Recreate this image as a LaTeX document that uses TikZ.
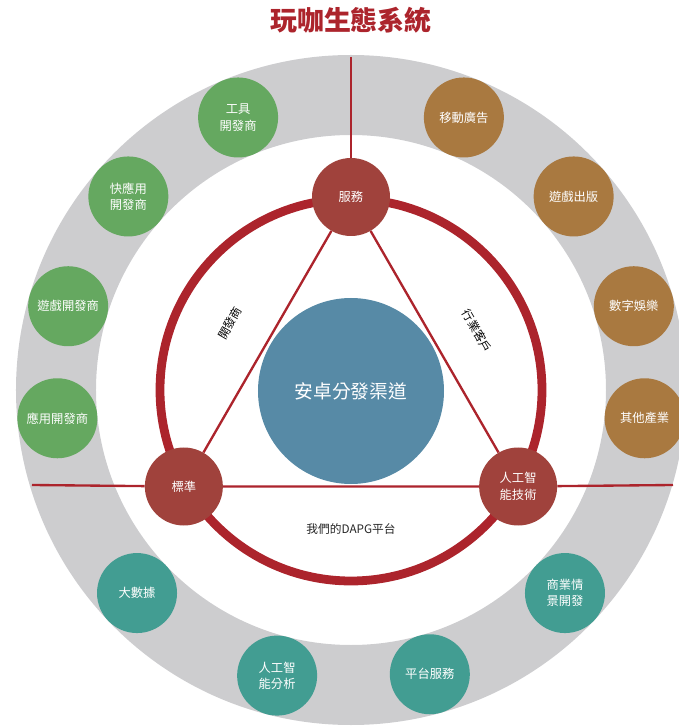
\documentclass[tikz,border=0pt]{standalone}
\usepackage{fontspec}
\setmainfont{Noto Sans CJK TC}
\usetikzlibrary{backgrounds}
\definecolor{RingGray}{RGB}{205, 205, 207}
\definecolor{RingRed}{RGB}{172, 36, 44}
\definecolor{HubRed}{RGB}{160, 66, 60}
\definecolor{DevGreen}{RGB}{101, 168, 96}
\definecolor{IndBrown}{RGB}{169, 121, 64}
\definecolor{TechTeal}{RGB}{66, 157, 146}
\definecolor{CoreBlue}{RGB}{87, 138, 166}

\begin{document}
\begin{tikzpicture}[x=0.03cm, y=0.03cm,
    hub/.style={circle, fill=HubRed, text=white, minimum size=2.34cm, inner sep=0pt, align=center, font=\fontsize{10.5}{14}\selectfont},
    petal/.style={circle, text=white, minimum size=2.4cm, inner sep=0pt, align=center, font=\fontsize{10.5}{14}\selectfont},
    link/.style={RingRed, line width=2pt}]
    \useasboundingbox (-351,-337) rectangle (328,390);
    \clip (-351,-337) rectangle (328,390);

    \node[font=\fontsize{23}{26}\selectfont\bfseries, text=RingRed] (title) at (0,370) {玩咖生態系統};

    % core and hubs
    \node[circle, fill=CoreBlue, text=white, minimum size=5.58cm, font=\fontsize{16}{18}\selectfont] (core) at (0,-1) {安卓分發渠道};
    \node[hub] (serv) at (90:193) {服務};
    \node[hub] (std) at (210:193) {標準};
    \node[hub] (ai) at (330:193) {人工智\\能技術};

    % outer ring
    \foreach \ang/\txt/\nm in {112.5/{工具\\開發商}/tool, 139/{快應用\\開發商}/quick, 163.5/遊戲開發商/gamedev, 185.5/應用開發商/appdev}
        \node[petal, fill=DevGreen] (\nm) at (\ang:295) {\txt};
    \foreach \ang/\txt/\nm in {67.5/移動廣告/ads, 41/遊戲出版/publish, 16.5/數字娛樂/ent, -5.5/其他產業/other}
        \node[petal, fill=IndBrown] (\nm) at (\ang:295) {\txt};
    \foreach \ang/\txt/\nm in {223.5/大數據/data, 255.5/{人工智\\能分析}/aian, 285.5/平台服務/plat, 316.5/{商業情\\景開發}/scene}
        \node[petal, fill=TechTeal] (\nm) at (\ang:295) {\txt};

    \node[rotate=60, font=\fontsize{10}{12}\selectfont] (devlab) at (-121,67) {開發商};
    \node[rotate=-60, font=\fontsize{10}{12}\selectfont] (custlab) at (126,59) {行業客戶};
    \node[font=\fontsize{10}{12}\selectfont, text=black!85] (dapg) at (0,-139) {我們的DAPG平台};

    \coordinate (top) at (0,333);
    \coordinate (west) at (-319,-95);
    \coordinate (east) at (322,-95);

    \begin{scope}[on background layer]
        \fill[RingGray, even odd rule] (0,0) circle (335) (0,0) circle (255);
        \draw[RingRed, line width=7.5pt] (0,0) circle (191);
        \draw[link, line width=1.6pt] (top) -- (serv);
        \draw[link] (west) -- (std) -- (ai) -- (east);
        \draw[link] (serv) -- (std);
        \draw[link] (serv) -- (ai);
    \end{scope}
\end{tikzpicture}
\end{document}
